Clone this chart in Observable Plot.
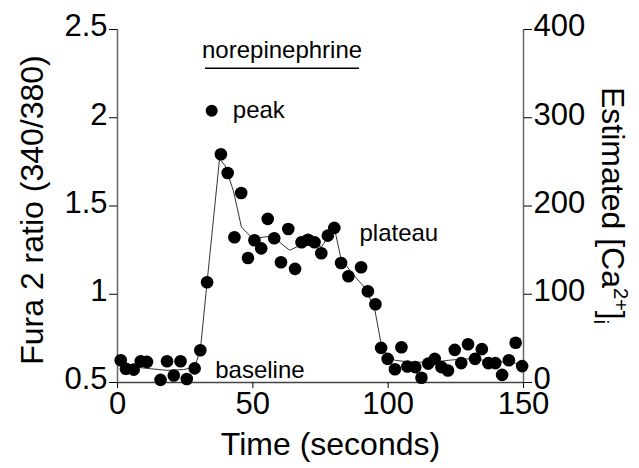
<!DOCTYPE html>
<html><head><meta charset="utf-8">
<script src="https://cdn.jsdelivr.net/npm/d3@7"></script>
<script src="https://cdn.jsdelivr.net/npm/@observablehq/plot@0.6"></script>
<style>body{margin:0;background:#fff}</style>
</head><body><div id="chart"></div>
<script>
// measured points: time (s) and Fura-2 ratio
const timeS = [1.2,3.1,6.0,8.6,10.9,15.9,18.3,20.8,23.3,25.6,28.5,30.6,33.1,38.2,40.7,43.2,45.7,48.2,50.6,53.1,55.5,57.9,60.4,63.1,65.6,68.0,70.4,72.8,75.3,77.7,80.1,82.6,85.3,90.0,92.5,95.3,97.4,99.8,102.5,104.9,107.1,110.0,112.3,114.8,117.2,119.7,122.1,124.6,127.0,129.5,132.1,134.6,137.0,139.6,142.1,144.6,147.1,149.5];
const fura = [0.626,0.578,0.573,0.62,0.617,0.515,0.62,0.54,0.62,0.52,0.58,0.683,1.068,1.793,1.687,1.323,1.574,1.205,1.306,1.26,1.427,1.317,1.181,1.37,1.144,1.295,1.309,1.295,1.232,1.332,1.376,1.177,1.102,1.153,1.017,0.943,0.696,0.634,0.575,0.70,0.591,0.587,0.527,0.607,0.634,0.587,0.568,0.685,0.61,0.717,0.634,0.689,0.61,0.61,0.543,0.626,0.725,0.593];
// smoothed trace
const fitTime = [1.2,6.0,12.2,18.3,24.4,28.5,30.6,33.1,37.7,39.7,42.8,45.8,50.1,53.8,57.5,60.5,63.6,67.3,72.2,75.3,77.7,80.2,82.6,86.9,91.2,94.9,97.4,99.8,102.8,108.9,116.3,122.4,128.6,135.9,143.3,149.5];
const fitFura = [0.626,0.588,0.578,0.569,0.573,0.588,0.683,1.068,1.767,1.73,1.587,1.38,1.314,1.323,1.332,1.287,1.249,1.276,1.295,1.267,1.323,1.37,1.2,1.115,1.04,0.926,0.719,0.643,0.625,0.615,0.615,0.626,0.634,0.626,0.615,0.606];
const xTicks = [0,50,100,150];
const yTicks = [0.5,1,1.5,2,2.5];
const yTickLabels = ["0.5","1","1.5","2","2.5"];
const caTickLabels = ["0","100","200","300","400"];
const xTitle = "Time (seconds)";
const yTitle = "Fura 2 ratio (340/380)";
const noteLabels = ["norepinephrine","peak","plateau","baseline"];
const noteTime = [60.8,42.6,89.4,36.1];
const noteFura = [2.38,2.04,1.345,0.57];
const noteAnchor = ["middle","start","start","start"];
const drugOn = [32.5];
const drugOff = [89.4];
const drugFura = [2.28];
const peakMarkerTime = [34.8];
const peakMarkerFura = [2.04];

const font = "'Liberation Sans', Arial, Helvetica, sans-serif";
const pts = timeS.map((t,i)=>({t, r: fura[i]}));
const fit = fitTime.map((t,i)=>({t, r: fitFura[i]}));
const notes = noteLabels.map((s,i)=>({s, t: noteTime[i], r: noteFura[i], a: noteAnchor[i]}));
const bar = drugOn.map((on,i)=>({on, off: drugOff[i], r: drugFura[i]}));
const marker = peakMarkerTime.map((t,i)=>({t, r: peakMarkerFura[i]}));

const chart = Plot.plot({
  width: 639, height: 468,
  marginLeft: 117, marginRight: 116, marginTop: 29, marginBottom: 86,
  style: {fontFamily: font, background: "#fff", color: "#000", overflow: "visible"},
  x: {domain: [0,150]},
  y: {domain: [0.5,2.5]},
  marks: [
    Plot.ruleY([0.5], {stroke: "#444", strokeWidth: 1.5}),
    Plot.ruleX([0,150], {stroke: "#666", strokeWidth: 1.5}),
    Plot.axisX({ticks: xTicks, tickSize: 6, tickPadding: 3, fontSize: 31, stroke: "#000", label: null}),
    // left axis: tick marks, then labels nudged up as in the reference
    Plot.axisY({anchor: "left", ticks: yTicks, tickSize: 8, text: null, label: null}),
    Plot.axisY({anchor: "left", ticks: yTicks, tickFormat: d => yTickLabels[yTicks.indexOf(d)], tickSize: 0, tickPadding: 10, fontSize: 31, dy: -3, label: null}),
    // right axis: estimated [Ca2+]i labels
    Plot.axisY({anchor: "right", ticks: yTicks, tickSize: 8, text: null, label: null}),
    Plot.axisY({anchor: "right", ticks: yTicks, tickFormat: d => caTickLabels[yTicks.indexOf(d)], tickSize: 0, tickPadding: 10, fontSize: 31, dy: -3, label: null}),
    Plot.text([xTitle], {frameAnchor: "bottom", textAnchor: "middle", dx: 10, dy: 72, fontSize: 32, fill: "#000"}),
    Plot.text([yTitle], {frameAnchor: "left", textAnchor: "middle", lineAnchor: "middle", rotate: -90, dx: -85, dy: 4, fontSize: 32, fill: "#000"}),
    Plot.line(fit, {x: "t", y: "r", stroke: "#333", strokeWidth: 1}),
    Plot.dot(pts, {x: "t", y: "r", r: 6.3, fill: "#000"}),
    Plot.dot(marker, {x: "t", y: "r", r: 6, fill: "#000"}),
    Plot.ruleY(bar, {y: "r", x1: "on", x2: "off", stroke: "#000", strokeWidth: 1.5}),
    Plot.text(notes, {filter: d => d.a === "middle", x: "t", y: "r", text: "s", textAnchor: "middle", lineAnchor: "middle", fontSize: 24, fill: "#000"}),
    Plot.text(notes, {filter: d => d.a === "start", x: "t", y: "r", text: "s", textAnchor: "start", lineAnchor: "middle", fontSize: 24, fill: "#000"})
  ]
});
document.getElementById("chart").appendChild(chart);

const svg = d3.select(chart);
const lab = svg.append("text")
  .attr("transform", "translate(602,87) rotate(90)")
  .attr("text-anchor", "start")
  .attr("font-family", font).attr("font-size", 32).attr("fill", "#000");
lab.append("tspan").text("Estimated [Ca");
lab.append("tspan").attr("dy", -12).attr("font-size", 20).text("2+");
lab.append("tspan").attr("dy", 12).text("]");
lab.append("tspan").attr("dy", 8).attr("font-size", 20).text("i");
</script>
</body></html>
